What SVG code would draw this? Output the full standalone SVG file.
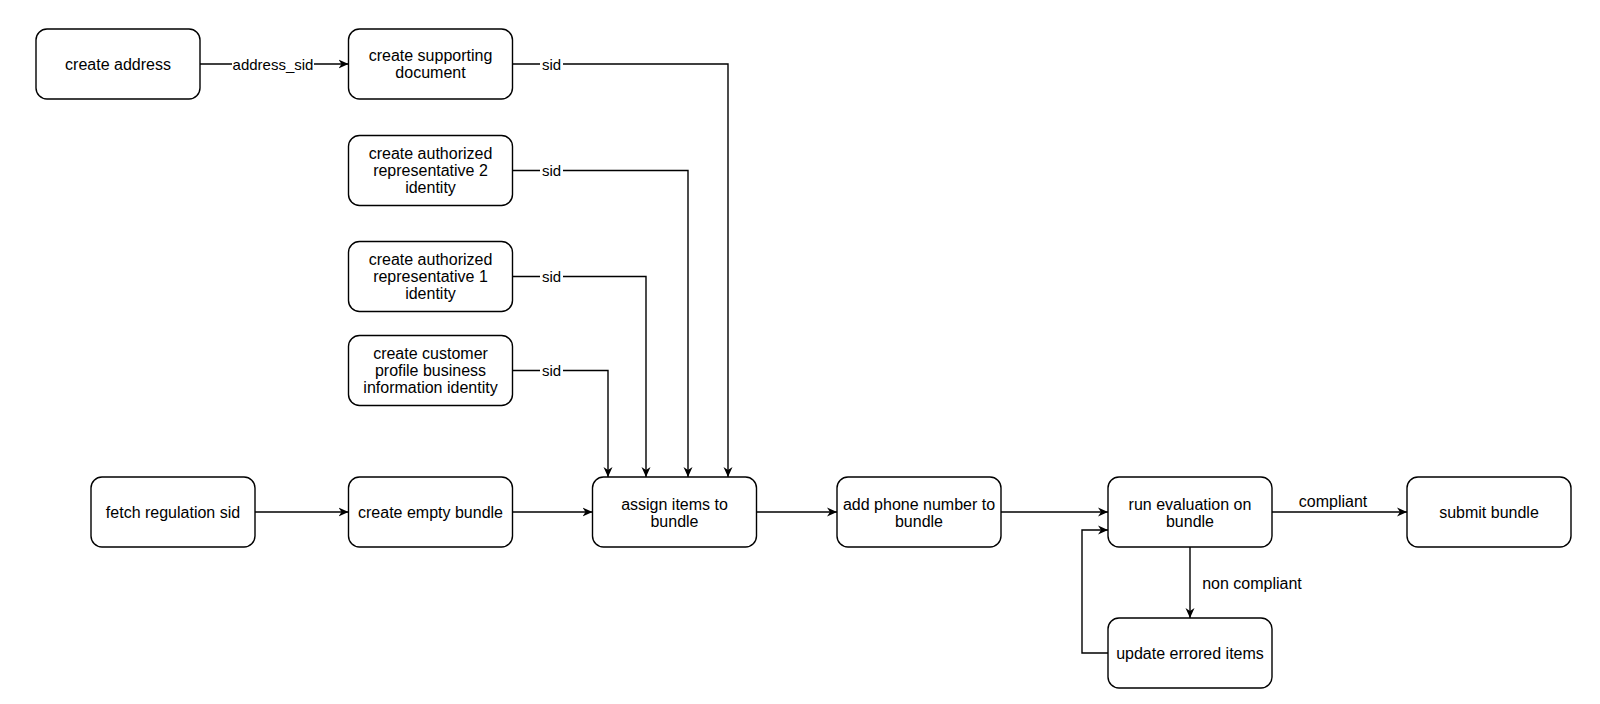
<svg xmlns="http://www.w3.org/2000/svg" width="1600" height="704" viewBox="0 0 1600 704">
<style>
.n rect{fill:#fff;stroke:#000;stroke-width:1.4}
.n text{font-family:"Liberation Sans",Arial,Helvetica,sans-serif;font-size:16px;fill:#000;text-anchor:middle;dominant-baseline:central}
.e path{fill:none;stroke:#000;stroke-width:1.4;marker-end:url(#ah)}
.l{font-family:"Liberation Sans",Arial,Helvetica,sans-serif;font-size:15px;fill:#000;text-anchor:middle;dominant-baseline:central}
.l16{font-size:16px}
.lb{fill:#fff}
</style>
<defs>
<marker id="ah" viewBox="0 0 10 10" refX="10" refY="5" markerWidth="10" markerHeight="10" markerUnits="userSpaceOnUse" orient="auto"><path d="M0,0.5 L10,5 L0,9.5 L3,5 Z" fill="#000"/></marker>
</defs>
<rect width="1600" height="704" fill="#fff"/>
<g id="connectors" class="e">
<path d="M200,64 H348.5"/>
<path d="M512.5,64 H728 V477"/>
<path d="M512.5,170.5 H688 V477"/>
<path d="M512.5,276.5 H646 V477"/>
<path d="M512.5,370.5 H608 V477"/>
<path d="M255,512 H348.5"/>
<path d="M512.5,512 H592.5"/>
<path d="M756.5,512 H837"/>
<path d="M1001,512 H1108"/>
<path d="M1272,512 H1407"/>
<path d="M1190,547 V618"/>
<path d="M1108,653 H1082 V530 H1108"/>
</g>
<g id="labels">
<rect class="lb" x="232" y="55" width="82" height="18"/><text class="l" x="273" y="64">address_sid</text>
<rect class="lb" x="540" y="61" width="23" height="7"/><text class="l" x="551.5" y="64">sid</text>
<rect class="lb" x="540" y="167" width="23" height="7"/><text class="l" x="551.5" y="170.5">sid</text>
<rect class="lb" x="540" y="273" width="23" height="7"/><text class="l" x="551.5" y="276.5">sid</text>
<rect class="lb" x="540" y="367" width="23" height="7"/><text class="l" x="551.5" y="370.5">sid</text>
<text class="l l16" x="1333" y="501">compliant</text>
<text class="l l16" x="1252" y="583">non compliant</text>
</g>
<g id="n-create-address" class="n"><rect x="36" y="29" width="164" height="70" rx="11"/><text x="118" y="64">create address</text></g>
<g id="n-supporting-doc" class="n"><rect x="348.5" y="29" width="164" height="70" rx="11"/><text x="430.5" y="55.5">create supporting</text><text x="430.5" y="72.5">document</text></g>
<g id="n-rep2" class="n"><rect x="348.5" y="135.5" width="164" height="70" rx="11"/><text x="430.5" y="153.5">create authorized</text><text x="430.5" y="170.5">representative 2</text><text x="430.5" y="187.5">identity</text></g>
<g id="n-rep1" class="n"><rect x="348.5" y="241.5" width="164" height="70" rx="11"/><text x="430.5" y="259.5">create authorized</text><text x="430.5" y="276.5">representative 1</text><text x="430.5" y="293.5">identity</text></g>
<g id="n-customer" class="n"><rect x="348.5" y="335.5" width="164" height="70" rx="11"/><text x="430.5" y="353.5">create customer</text><text x="430.5" y="370.5">profile business</text><text x="430.5" y="387.5">information identity</text></g>
<g id="n-fetch" class="n"><rect x="91" y="477" width="164" height="70" rx="11"/><text x="173" y="512">fetch regulation sid</text></g>
<g id="n-empty" class="n"><rect x="348.5" y="477" width="164" height="70" rx="11"/><text x="430.5" y="512">create empty bundle</text></g>
<g id="n-assign" class="n"><rect x="592.5" y="477" width="164" height="70" rx="11"/><text x="674.5" y="504">assign items to</text><text x="674.5" y="521">bundle</text></g>
<g id="n-phone" class="n"><rect x="837" y="477" width="164" height="70" rx="11"/><text x="919" y="504">add phone number to</text><text x="919" y="521">bundle</text></g>
<g id="n-run" class="n"><rect x="1108" y="477" width="164" height="70" rx="11"/><text x="1190" y="504">run evaluation on</text><text x="1190" y="521">bundle</text></g>
<g id="n-submit" class="n"><rect x="1407" y="477" width="164" height="70" rx="11"/><text x="1489" y="512">submit bundle</text></g>
<g id="n-update" class="n"><rect x="1108" y="618" width="164" height="70" rx="11"/><text x="1190" y="653">update errored items</text></g>
</svg>
